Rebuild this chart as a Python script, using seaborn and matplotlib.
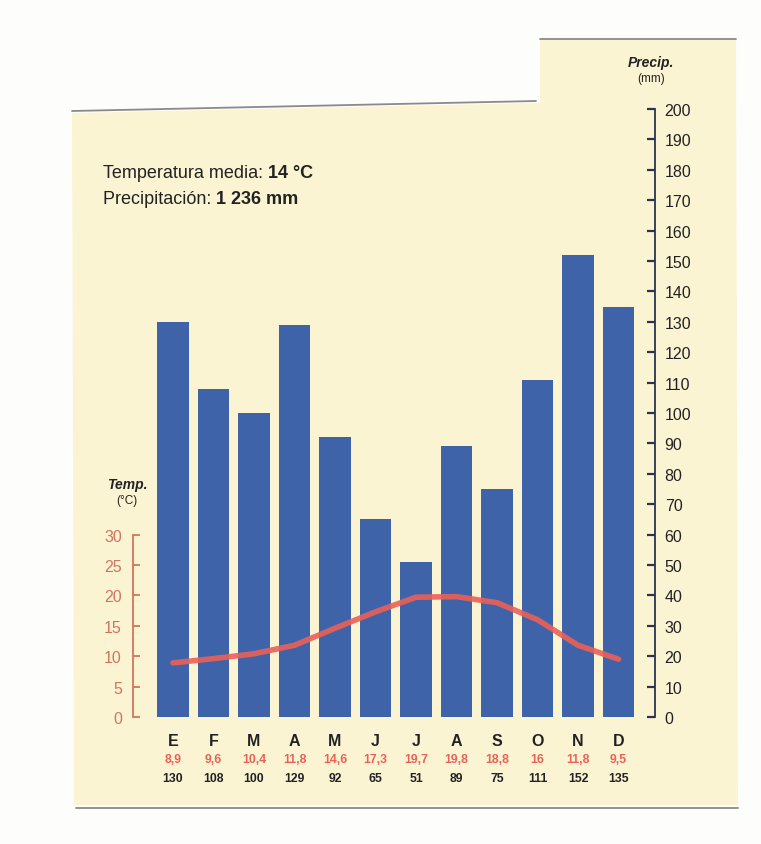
import numpy as np
import pandas as pd
import matplotlib
matplotlib.use("Agg")
import matplotlib.pyplot as plt
from matplotlib.patches import Polygon
from matplotlib.lines import Line2D
import seaborn as sns

# Climograma data
months = ["E", "F", "M", "A", "M", "J", "J", "A", "S", "O", "N", "D"]
temps = [8.9, 9.6, 10.4, 11.8, 14.6, 17.3, 19.7, 19.8, 18.8, 16, 11.8, 9.5]
precip = [130, 108, 100, 129, 92, 65, 51, 89, 75, 111, 152, 135]
temp_labels = ["8,9", "9,6", "10,4", "11,8", "14,6", "17,3", "19,7", "19,8", "18,8", "16", "11,8", "9,5"]
precip_ticks = list(range(0, 201, 10))
temp_ticks = [0, 5, 10, 15, 20, 25, 30]

CREAM = "#FBF4D3"
BLUE = "#3F63A9"
RED = "#EA6158"
SALMON = "#CF7560"
DARK = "#222222"

W, H = 761, 845


def fx(px):
    return px / W


def fy(py):
    return 1 - py / H


def main():
    sns.set_theme(style="white")
    plt.rcParams["font.family"] = ["Liberation Sans", "DejaVu Sans"]

    fig = plt.figure(figsize=(W / 100, H / 100), dpi=100)
    fig.patch.set_facecolor("#FDFDFB")

    # cream paper panel with the notch on top
    pts = [(72, 114), (536, 104), (540, 104), (540, 40), (736, 40), (738, 806), (74, 806)]
    panel = Polygon([(fx(x), fy(y)) for x, y in pts], closed=True, transform=fig.transFigure,
                    facecolor=CREAM, edgecolor="none", zorder=-10)
    fig.patches.append(panel)
    for seg in [[(72, 112), (536, 102)], [(540, 40), (736, 40)], [(76, 809), (738, 809)]]:
        fig.add_artist(Line2D([fx(seg[0][0]), fx(seg[1][0])], [fy(seg[0][1]), fy(seg[1][1])],
                              transform=fig.transFigure, color="#8a8a8a", lw=1.3, zorder=-5))

    ax = fig.add_axes([fx(133), fy(718), fx(655) - fx(133), (718 - 110) / H])
    ax.set_facecolor("none")

    df = pd.DataFrame({"idx": np.arange(12), "precip": precip, "temp": temps})
    sns.barplot(data=df, x="idx", y="precip", color=BLUE, saturation=1, width=0.77,
                linewidth=0, ax=ax)
    ax.set_xlim(-0.988, 11.9)
    ax.set_ylim(0, 200)
    ax.set_xlabel("")
    ax.set_ylabel("")
    ax.set_xticks([])

    # temperature axis (left), 1 °C = 2 mm
    axt = ax.twinx()
    axt.set_ylim(0, 100)
    sns.lineplot(data=df, x="idx", y="temp", color=RED, lw=4, alpha=0.9, ax=axt)
    axt.set_xlim(-0.988, 11.9)
    axt.set_xlabel("")
    axt.set_ylabel("")
    axt.yaxis.tick_left()
    axt.set_yticks(temp_ticks)
    axt.tick_params(axis="y", direction="in", length=5, width=1.3, colors=SALMON,
                    labelcolor=SALMON, labelsize=11.5, pad=8)
    for s in ["top", "right", "bottom"]:
        axt.spines[s].set_visible(False)
    axt.spines["left"].set_visible(True)
    axt.spines["left"].set_bounds(0, 30)
    axt.spines["left"].set_color(SALMON)
    axt.spines["left"].set_linewidth(1.3)

    # precipitation axis (right)
    ax.yaxis.tick_right()
    ax.set_yticks(precip_ticks)
    ax.tick_params(axis="y", direction="in", length=6, width=1.6, colors="#2b3350",
                   labelcolor=DARK, labelsize=11.5, pad=7)
    for s in ["top", "left", "bottom"]:
        ax.spines[s].set_visible(False)
    ax.spines["right"].set_visible(True)
    ax.spines["right"].set_color("#2b3350")
    ax.spines["right"].set_linewidth(1.3)

    # month labels and value rows below the bars
    tr = ax.get_xaxis_transform()
    for i in range(12):
        ax.text(i, -0.038, months[i], transform=tr, ha="center", va="center",
                fontsize=11.5, fontweight="bold", color=DARK)
        ax.text(i, -0.069, temp_labels[i], transform=tr, ha="center", va="center",
                fontsize=8.8, fontweight="bold", color=RED)
        ax.text(i, -0.100, str(precip[i]), transform=tr, ha="center", va="center",
                fontsize=8.8, fontweight="bold", color=DARK)

    # axis titles
    fig.text(fx(651), fy(63), "Precip.", ha="center", va="center", fontsize=10,
             fontweight="bold", fontstyle="italic", color=DARK)
    fig.text(fx(651), fy(79), "(mm)", ha="center", va="center", fontsize=8.5, color=DARK)
    fig.text(fx(127), fy(485), "Temp.", ha="center", va="center", fontsize=10,
             fontweight="bold", fontstyle="italic", color=DARK)
    fig.text(fx(127), fy(501), "(°C)", ha="center", va="center", fontsize=8.5, color=DARK)

    # summary text, bold values placed right after the plain part
    t1 = fig.text(fx(103), fy(173), "Temperatura media: ", ha="left", va="center",
                  fontsize=13, color=DARK)
    fig.add_artist(plt.Annotation("14 °C", xy=(1, 0.5), xycoords=t1, ha="left", va="center",
                                  fontsize=13, fontweight="bold", color=DARK))
    t2 = fig.text(fx(103), fy(200), "Precipitación: ", ha="left", va="center",
                  fontsize=13, color=DARK)
    fig.add_artist(plt.Annotation("1 236 mm", xy=(1, 0.5), xycoords=t2, ha="left", va="center",
                                  fontsize=13, fontweight="bold", color=DARK))

    fig.savefig("out.png", dpi=100)


if __name__ == "__main__":
    main()
